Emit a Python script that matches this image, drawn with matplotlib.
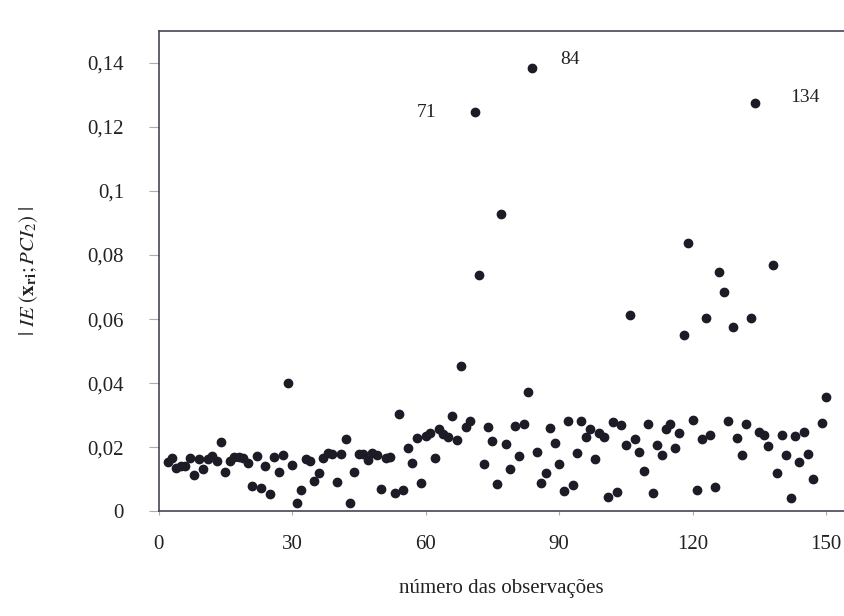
import matplotlib.pyplot as plt
from matplotlib.ticker import FuncFormatter
import numpy as np

plt.rcParams['font.family'] = ['Liberation Serif', 'DejaVu Serif']
plt.rcParams['mathtext.fontset'] = 'stix'

obs = [2, 3, 4, 5, 6, 7, 8, 9, 10, 11, 12, 13, 14, 15, 16, 17, 18, 19, 20, 21,
       22, 23, 24, 25, 26, 27, 28, 29, 30, 31, 32, 33, 34, 35, 36, 37, 38, 39, 40, 41,
       42, 43, 44, 45, 46, 47, 48, 49, 50, 51, 52, 53, 54, 55, 56, 57, 58, 59, 60, 61,
       62, 63, 64, 65, 66, 67, 68, 69, 71, 70, 72, 73, 74, 75, 76, 77, 78, 79, 80, 81,
       84, 82, 83, 85, 86, 87, 88, 89, 90, 91, 92, 93, 94, 95, 96, 97, 98, 99, 100, 101,
       102, 103, 104, 105, 106, 107, 108, 109, 110, 111, 112, 113, 114, 115, 116, 117, 118, 119, 120, 121,
       122, 123, 124, 125, 126, 127, 128, 129, 130, 131, 132, 134, 133, 135, 136, 137, 138, 139, 140, 141,
       142, 143, 144, 145, 146, 147, 149, 150]

ie = [0.0155, 0.0166, 0.0134, 0.0142, 0.0141, 0.0165, 0.0114, 0.0164, 0.0131, 0.0162,
      0.0173, 0.0157, 0.0216, 0.0124, 0.0157, 0.0169, 0.0171, 0.0166, 0.0150, 0.0080,
      0.0173, 0.0073, 0.0140, 0.0055, 0.0170, 0.0122, 0.0175, 0.0402, 0.0145, 0.0025,
      0.0065, 0.0164, 0.0157, 0.0094, 0.0121, 0.0167, 0.0182, 0.0180, 0.0090, 0.0179,
      0.0226, 0.0025, 0.0124, 0.0179, 0.0178, 0.0159, 0.0183, 0.0176, 0.0069, 0.0165,
      0.0170, 0.0057, 0.0303, 0.0067, 0.0198, 0.0150, 0.0228, 0.0089, 0.0236, 0.0244,
      0.0165, 0.0256, 0.0242, 0.0232, 0.0297, 0.0224, 0.0455, 0.0264, 0.1245, 0.0281,
      0.0737, 0.0148, 0.0263, 0.0218, 0.0086, 0.0929, 0.0209, 0.0133, 0.0267, 0.0172,
      0.1384, 0.0274, 0.0373, 0.0184, 0.0089, 0.0120, 0.0260, 0.0212, 0.0148, 0.0063,
      0.0281, 0.0083, 0.0183, 0.0282, 0.0231, 0.0258, 0.0163, 0.0244, 0.0233, 0.0045,
      0.0279, 0.0059, 0.0268, 0.0208, 0.0613, 0.0225, 0.0186, 0.0126, 0.0272, 0.0058,
      0.0208, 0.0175, 0.0256, 0.0274, 0.0198, 0.0243, 0.0549, 0.0839, 0.0285, 0.0065,
      0.0227, 0.0604, 0.0238, 0.0077, 0.0746, 0.0685, 0.0281, 0.0574, 0.0229, 0.0175,
      0.0274, 0.1274, 0.0604, 0.0247, 0.0239, 0.0204, 0.0769, 0.0118, 0.0239, 0.0175,
      0.0040, 0.0236, 0.0154, 0.0247, 0.0180, 0.0101, 0.0275, 0.0358]

labelled = [71, 84, 134]
label_offsets = {71: (-48, 0), 84: (38, 8), 134: (50, 6)}

xticks = [0, 30, 60, 90, 120, 150]
yticks = [0, 0.02, 0.04, 0.06, 0.08, 0.1, 0.12, 0.14]

fig = plt.figure(figsize=(8.44, 6.16), dpi=100)
ax = fig.add_axes([0.188, 0.170, 0.812, 0.780])

ax.scatter(obs, ie, s=36, color='#1c1b26', zorder=3)

for o in labelled:
    i = obs.index(o)
    ax.annotate(str(o), (obs[i], ie[i]), xytext=label_offsets[o],
                textcoords='offset pixels', ha='center', va='center',
                fontsize=14, color='#222')

ax.set_xlim(0, 154)
ax.set_ylim(0, 0.15)
ax.set_xticks(xticks)
ax.set_yticks(yticks)
ax.yaxis.set_major_formatter(FuncFormatter(lambda v, p: ('%g' % v).replace('.', ',')))

ax.spines['right'].set_visible(False)
for s in ['left', 'bottom', 'top']:
    ax.spines[s].set_color('#4a4458')
    ax.spines[s].set_linewidth(1.2)

ax.tick_params(axis='y', direction='out', length=7, width=0.8, color='#b0a8b8',
               labelsize=15, pad=18, labelcolor='#222')
ax.tick_params(axis='x', direction='out', length=3, color='#b0a8b8',
               labelsize=15, pad=14, labelcolor='#222')

ax.set_xlabel('número das observações', fontsize=15, color='#222', labelpad=18)
ax.set_ylabel(r'$|\ IE\ (\mathbf{x}_{\mathbf{ri}}{;}PCI_2)\ |$', fontsize=15,
              color='#222', labelpad=34)

fig.savefig('out.png', dpi=100, facecolor='white')
